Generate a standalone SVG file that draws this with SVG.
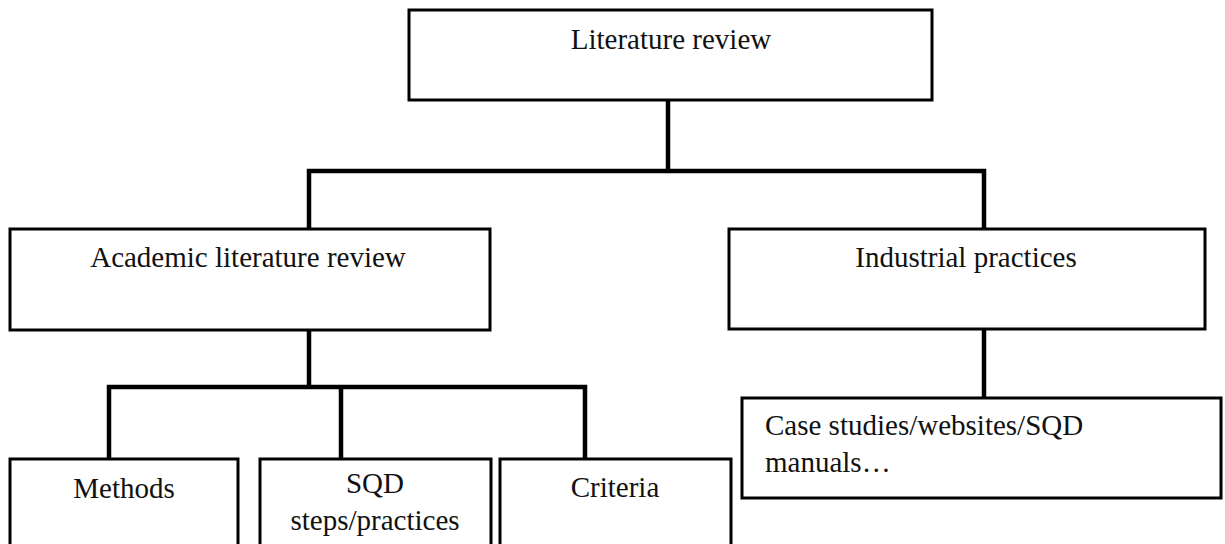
<svg xmlns="http://www.w3.org/2000/svg" width="1225" height="544" viewBox="0 0 1225 544">
<style>
.box{fill:#fff;stroke:#000;stroke-width:3}
.conn{fill:none;stroke:#000;stroke-width:4.5;stroke-linejoin:miter;stroke-linecap:square}
text{font-family:"Liberation Serif","Times New Roman",serif;font-size:29px;fill:#111}
.c{text-anchor:middle}
</style>
<rect width="1225" height="544" fill="#fff"/>
<g id="connectors">
<path class="conn" d="M668,101 V171 M309,228 V171 H984 V228"/>
<path class="conn" d="M309,331 V387 M109,457 V387 H585 V457 M341,387 V457"/>
<path class="conn" d="M984,330 V397"/>
</g>
<g id="literature-review">
<rect class="box" x="409" y="10" width="523" height="90"/>
<text class="c" x="671" y="49">Literature review</text>
</g>
<g id="academic">
<rect class="box" x="10" y="229" width="480" height="101"/>
<text class="c" x="248" y="267">Academic literature review</text>
</g>
<g id="industrial">
<rect class="box" x="729" y="229" width="476" height="100"/>
<text class="c" x="966" y="267">Industrial practices</text>
</g>
<g id="case-studies">
<rect class="box" x="742" y="398" width="479" height="100"/>
<text x="765" y="435">Case studies/websites/SQD</text>
<text x="765" y="472">manuals…</text>
</g>
<g id="methods">
<rect class="box" x="10" y="459" width="228" height="100"/>
<text class="c" x="124" y="498">Methods</text>
</g>
<g id="sqd-steps">
<rect class="box" x="260" y="459" width="231" height="100"/>
<text class="c" x="375" y="493">SQD</text>
<text class="c" x="375" y="530">steps/practices</text>
</g>
<g id="criteria">
<rect class="box" x="500" y="459" width="231" height="100"/>
<text class="c" x="615" y="497">Criteria</text>
</g>
</svg>
